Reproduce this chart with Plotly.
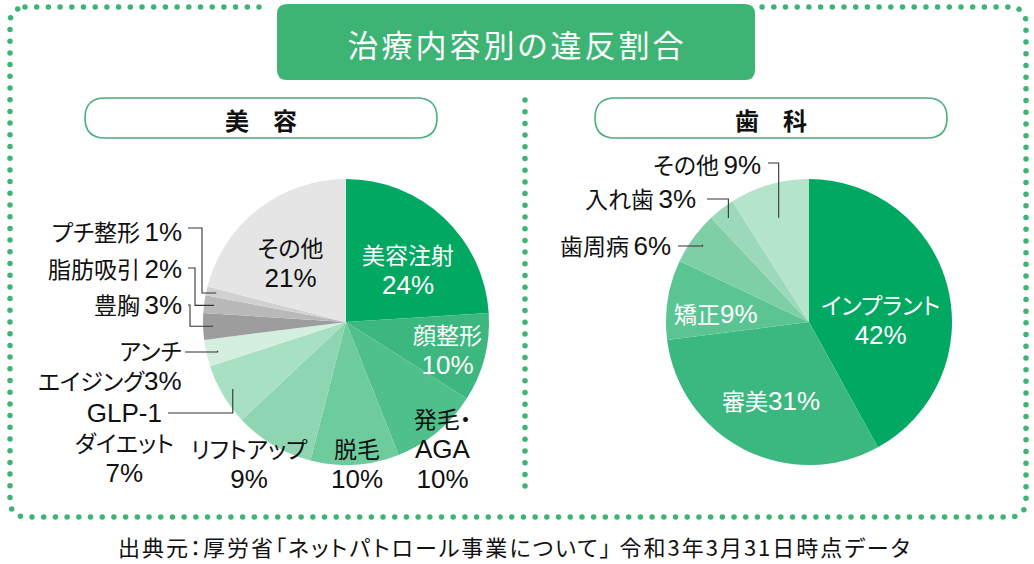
import math
import re
import plotly.graph_objects as go

W, H = 1034, 564
FONT = "Noto Sans CJK JP"

# ---------------- data ----------------
title_text = "治療内容別の違反割合"
beauty_title = "美　容"
dental_title = "歯　科"
source_text = "出典元：厚労省「ネットパトロール事業について」 令和3年3月31日時点データ"

beauty_cats = ["美容注射", "顔整形", "発毛・AGA", "脱毛", "リフトアップ", "GLP-1ダイエット",
               "アンチエイジング", "豊胸", "脂肪吸引", "プチ整形", "その他"]
beauty_vals = [24, 10, 10, 10, 9, 7, 3, 3, 2, 1, 21]
beauty_label_names = ["美容注射", "顔整形", "発毛・<br>AGA", "脱毛", "リフトアップ", "GLP-1<br>ダイエット",
                      "アンチ<br>エイジング", "豊胸", "脂肪吸引", "プチ整形", "その他"]
beauty_colors = ["#00a862", "#3cb77f", "#4fbf8b", "#6dcb9d", "#8ed6b1", "#a8e0c3",
                 "#d4efe0", "#9d9d9d", "#b9b9b9", "#d1d1d1", "#e5e5e5"]

dental_cats = ["インプラント", "審美", "矯正", "歯周病", "入れ歯", "その他"]
dental_vals = [42, 31, 9, 6, 3, 9]
dental_label_names = ["インプラント", "審美", "矯正", "歯周病", "入れ歯", "その他"]
dental_colors = ["#00a862", "#3ab87f", "#5bc493", "#7ecfa6", "#9bd9b9", "#b4e4ca"]

# ---------------- layout constants (pixels) ----------------
GREEN = "#3db374"
R = 143
left_c = (346, 322)
right_c = (809, 322)
LBL = 23
LAT = 26


def dom(c):
    x0, x1 = c[0] - R, c[0] + R
    y0, y1 = c[1] - R, c[1] + R
    return dict(x=[x0 / W, x1 / W], y=[(H - y1) / H, (H - y0) / H])


def mid_point(vals, i, c, frac):
    tot = sum(vals)
    start = sum(vals[:i])
    ang = (start + vals[i] / 2) / tot * 2 * math.pi
    r = R * frac
    return c[0] + r * math.sin(ang), c[1] - r * math.cos(ang)


def latin(s):
    span = f"<span style=\"font-family:'Liberation Sans';font-size:{LAT}px\">\\1</span>"
    return "<br>".join(re.sub(r"([0-9A-Za-z%\-]+)", span, part) for part in s.split("<br>"))


fig = go.Figure()


def rounded_rect_points(x0, y0, x1, y1, r, step):
    path = []

    def arc(cx, cy, a0, a1):
        for k in range(41):
            a = a0 + (a1 - a0) * k / 40
            path.append((cx + r * math.cos(a), cy + r * math.sin(a)))
    path.append((x0 + r, y0)); path.append((x1 - r, y0))
    arc(x1 - r, y0 + r, -math.pi / 2, 0)
    path.append((x1, y1 - r))
    arc(x1 - r, y1 - r, 0, math.pi / 2)
    path.append((x0 + r, y1))
    arc(x0 + r, y1 - r, math.pi / 2, math.pi)
    path.append((x0, y0 + r))
    arc(x0 + r, y0 + r, math.pi, 1.5 * math.pi)
    out = [path[0]]
    acc = 0.0
    for (ax, ay), (bx, by) in zip(path[:-1], path[1:]):
        seg = math.hypot(bx - ax, by - ay)
        d = 0.0
        while acc + (seg - d) >= step:
            d += step - acc
            t = d / seg if seg else 0
            out.append((ax + (bx - ax) * t, ay + (by - ay) * t))
            acc = 0.0
        acc += seg - d
    return out


border = rounded_rect_points(10, 7, 1026, 517, 15, 11.7)
border = [p for p in border if not (270 < p[0] < 762 and p[1] < 30)]
div = [(525, 100 + 11.7 * k) for k in range(34)]
dots = border + div
fig.add_trace(go.Scatter(x=[p[0] for p in dots], y=[p[1] for p in dots], mode="markers",
                         marker=dict(size=5.5, color=GREEN), hoverinfo="skip", showlegend=False))

fig.add_trace(go.Pie(labels=beauty_cats, values=beauty_vals, sort=False, direction="clockwise",
                     rotation=0, textinfo="none", hoverinfo="label+percent",
                     marker=dict(colors=beauty_colors, line=dict(width=0)),
                     domain=dom(left_c), showlegend=False))
fig.add_trace(go.Pie(labels=dental_cats, values=dental_vals, sort=False, direction="clockwise",
                     rotation=0, textinfo="none", hoverinfo="label+percent",
                     marker=dict(colors=dental_colors, line=dict(width=0)),
                     domain=dom(right_c), showlegend=False))

shapes = []
annotations = []


def rrect(x0, y0, x1, y1, r):
    return (f"M{x0 + r},{y0} L{x1 - r},{y0} Q{x1},{y0} {x1},{y0 + r} L{x1},{y1 - r} "
            f"Q{x1},{y1} {x1 - r},{y1} L{x0 + r},{y1} Q{x0},{y1} {x0},{y1 - r} "
            f"L{x0},{y0 + r} Q{x0},{y0} {x0 + r},{y0} Z")


shapes.append(dict(type="path", path=rrect(277, 4, 755, 80, 10), xref="x", yref="y",
                   fillcolor=GREEN, line=dict(width=0), layer="above"))
annotations.append(dict(x=517, y=43, text=f'<span style="letter-spacing:3px">{title_text}</span>',
                        showarrow=False, font=dict(family=FONT, size=31, color="white"),
                        xref="x", yref="y"))

for (x0, x1, txt) in [(85, 437, beauty_title), (595, 947, dental_title)]:
    shapes.append(dict(type="path", path=rrect(x0, 98, x1, 138, 20), xref="x", yref="y",
                       fillcolor="white", line=dict(width=1.6, color="#4aaf7b"), layer="above"))
    annotations.append(dict(x=(x0 + x1) / 2, y=119, text=txt, showarrow=False,
                            font=dict(family=FONT, size=24, color="#111111", weight="bold"),
                            xref="x", yref="y"))

# label placements: index -> (x, y, xanchor, color, separator)
beauty_place = {
    0: (408, 268, "center", "white", "<br>"),
    1: (447, 348, "center", "white", "<br>"),
    2: (442, 447, "center", "#111111", "<br>"),
    3: (357, 462, "center", "#111111", "<br>"),
    4: (249, 462, "center", "#111111", "<br>"),
    5: (124, 443, "center", "#111111", "<br>"),
    6: (184, 365, "right", "#111111", ""),
    7: (184, 304, "right", "#111111", "\u2009"),
    8: (184, 268, "right", "#111111", "\u2009"),
    9: (184, 231, "right", "#111111", "\u2009"),
    10: (290, 261, "center", "#111111", "<br>"),
}
dental_place = {
    0: (880, 318, "center", "white", "<br>"),
    1: (771, 400, "center", "white", ""),
    2: (716, 313, "center", "white", ""),
    3: (673, 245, "right", "#111111", "\u2009"),
    4: (698, 198, "right", "#111111", "\u2009"),
    5: (763, 164, "right", "#111111", "\u2009"),
}

for names, vals, place in [(beauty_label_names, beauty_vals, beauty_place),
                           (dental_label_names, dental_vals, dental_place)]:
    for i, (x, y, xa, col, sep) in place.items():
        annotations.append(dict(x=x, y=y, xref="x", yref="y", xanchor=xa, yanchor="middle",
                                align=xa, showarrow=False,
                                text=latin(f"{names[i]}{sep}{vals[i]}%"),
                                font=dict(family=FONT, size=LBL, color=col)))

leaders = [
    (beauty_vals, left_c, 9, 188, 228, 202, 0.93),
    (beauty_vals, left_c, 8, 188, 268, 195, 0.93),
    (beauty_vals, left_c, 7, 188, 305, 190, 0.93),
    (beauty_vals, left_c, 6, 185, 352, None, 0.92),
    (beauty_vals, left_c, 5, 168, 413, None, 0.92),
    (dental_vals, right_c, 5, 768, 163, None, 0.76),
    (dental_vals, right_c, 4, 707, 199, None, 0.92),
    (dental_vals, right_c, 3, 678, 246, None, 0.92),
]
for vals, c, i, lx, ly, ex, fr in leaders:
    ax, ay = mid_point(vals, i, c, fr)
    if ex is None:
        ex = ax
    shapes.append(dict(type="path", path=f"M{lx},{ly} L{ex},{ly} L{ex},{ay} L{ax},{ay}",
                       xref="x", yref="y", line=dict(color="#333333", width=1.1), layer="above"))

annotations.append(dict(x=515, y=546, xref="x", yref="y", showarrow=False,
                        text=f'<span style="letter-spacing:2px">{source_text}</span>',
                        font=dict(family=FONT, size=22, color="#111111")))

fig.update_layout(
    width=W, height=H, margin=dict(l=0, r=0, t=0, b=0),
    paper_bgcolor="white", plot_bgcolor="white",
    xaxis=dict(range=[0, W], visible=False, domain=[0, 1], fixedrange=True),
    yaxis=dict(range=[H, 0], visible=False, domain=[0, 1], fixedrange=True),
    shapes=shapes, annotations=annotations,
    font=dict(family=FONT),
)

post = """
var s = document.createElement('style');
s.innerHTML = 'html,body{margin:0;padding:0;overflow:hidden} text {font-feature-settings:"palt" 1;}';
document.head.appendChild(s);
var gd = document.getElementById('{plot_id}');
Plotly.newPlot(gd, gd.data, gd.layout, {displayModeBar:false});
"""

fig.write_html("out.html", post_script=post, config={"displayModeBar": False})
